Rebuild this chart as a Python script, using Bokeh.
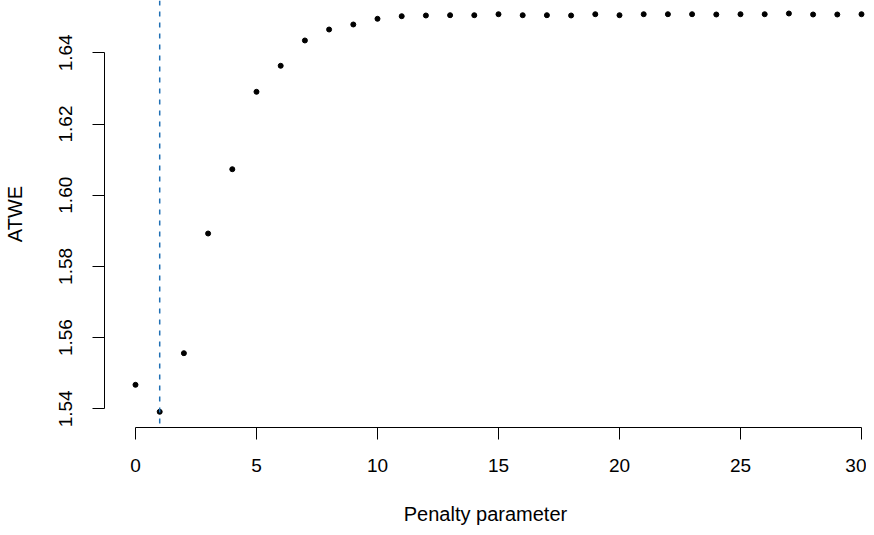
from bokeh.plotting import figure
from bokeh.models import Span, Range1d, FixedTicker
from bokeh.embed import file_html
from bokeh.resources import INLINE

# Data
penalty = list(range(0, 31))
atwe = [1.54674, 1.53916, 1.55562, 1.58924, 1.60730, 1.62904, 1.63635, 1.64346,
        1.64654, 1.64795, 1.64955, 1.65028, 1.65048, 1.65056, 1.65056, 1.65084,
        1.65056, 1.65056, 1.65048, 1.65084, 1.65056, 1.65084, 1.65084, 1.65084,
        1.65076, 1.65084, 1.65084, 1.65104, 1.65076, 1.65076, 1.65084]
x_ticks = [0, 5, 10, 15, 20, 25, 30]
y_ticks = [1.54, 1.56, 1.58, 1.60, 1.62, 1.64]
y_tick_labels = {1.54: "1.54", 1.56: "1.56", 1.58: "1.58", 1.60: "1.60", 1.62: "1.62", 1.64: "1.64"}
chosen_penalty = 1
x_title = "Penalty parameter"
y_title = "ATWE"

FONT = "Liberation Sans"

p = figure(width=866, height=527, output_backend="svg", toolbar_location=None,
           x_range=Range1d(-1.281, 30.207), y_range=Range1d(1.53475, 1.65469),
           min_border_left=104, min_border_right=0, min_border_top=0, min_border_bottom=100)
p.outline_line_color = None
p.grid.visible = False
p.background_fill_color = "white"
p.border_fill_color = "white"

p.scatter(penalty, atwe, size=5, color="black", line_color="black")

p.add_layout(Span(location=chosen_penalty, dimension="height", line_color="#1F6FB4",
                  line_dash="5 6", line_width=1.5))

for ax in (p.xaxis[0], p.yaxis[0]):
    ax.axis_line_color = "black"
    ax.major_tick_line_color = "black"
    ax.minor_tick_line_color = None
    ax.major_tick_out = 12
    ax.major_tick_in = 0
    ax.major_label_text_font = FONT
    ax.major_label_text_font_size = "19px"
    ax.major_label_text_color = "black"
    ax.axis_label_text_font = FONT
    ax.axis_label_text_font_size = "20px"
    ax.axis_label_text_font_style = "normal"
    ax.axis_label_text_color = "black"

p.xaxis.ticker = FixedTicker(ticks=x_ticks)
p.xaxis.bounds = (0, 30)
p.xaxis.axis_label = x_title
p.xaxis.major_label_standoff = 19
p.xaxis.axis_label_standoff = 28

p.yaxis.ticker = FixedTicker(ticks=y_ticks)
p.yaxis.major_label_overrides = y_tick_labels
p.yaxis.bounds = (1.54, 1.64)
p.yaxis.axis_label = y_title
p.yaxis.major_label_orientation = "vertical"
p.yaxis.major_label_standoff = 20
p.yaxis.axis_label_standoff = 31

open("out.html", "w").write(file_html(p, INLINE))
